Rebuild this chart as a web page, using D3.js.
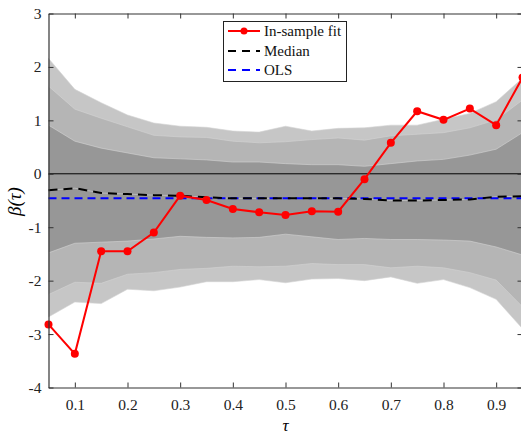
<!DOCTYPE html>
<html><head><meta charset="utf-8">
<script src="https://cdn.jsdelivr.net/npm/d3@7"></script>
<style>body{margin:0;background:#fff}svg{display:block}</style>
</head><body>
<script>
const tau = [0.05,0.1,0.15,0.2,0.25,0.3,0.35,0.4,0.45,0.5,0.55,0.6,0.65,0.7,0.75,0.8,0.85,0.9,0.95];
const fit = [-2.82,-3.37,-1.45,-1.45,-1.10,-0.41,-0.49,-0.66,-0.72,-0.77,-0.70,-0.71,-0.10,0.58,1.17,1.01,1.22,0.91,1.80];
const median = [-0.31,-0.27,-0.36,-0.38,-0.40,-0.41,-0.44,-0.46,-0.46,-0.46,-0.46,-0.46,-0.47,-0.50,-0.50,-0.49,-0.48,-0.43,-0.42];
const ols = [-0.46,-0.46,-0.46,-0.46,-0.46,-0.46,-0.46,-0.46,-0.46,-0.46,-0.46,-0.46,-0.46,-0.46,-0.46,-0.46,-0.46,-0.46,-0.46];
const outerUp = [2.16,1.58,1.33,1.10,0.95,0.89,0.87,0.80,0.78,0.89,0.80,0.85,0.86,0.91,0.91,1.02,1.13,1.35,1.79];
const midUp   = [1.64,1.21,1.04,0.88,0.72,0.69,0.68,0.61,0.58,0.60,0.64,0.67,0.63,0.71,0.74,0.77,0.86,1.01,1.38];
const innerUp = [0.91,0.61,0.48,0.39,0.30,0.28,0.26,0.22,0.22,0.19,0.17,0.17,0.14,0.19,0.24,0.27,0.35,0.46,0.77];
const innerLo = [-1.48,-1.30,-1.28,-1.26,-1.22,-1.17,-1.19,-1.20,-1.19,-1.13,-1.18,-1.23,-1.21,-1.23,-1.23,-1.24,-1.26,-1.37,-1.52];
const midLo   = [-2.26,-2.03,-2.05,-1.88,-1.85,-1.79,-1.77,-1.73,-1.74,-1.73,-1.68,-1.70,-1.70,-1.76,-1.73,-1.76,-1.85,-1.99,-2.49];
const outerLo = [-2.68,-2.40,-2.43,-2.16,-2.19,-2.12,-2.02,-2.02,-1.98,-2.04,-1.97,-1.96,-2.00,-1.93,-2.05,-1.98,-2.13,-2.35,-2.90];
const xTicks = [0.1,0.2,0.3,0.4,0.5,0.6,0.7,0.8,0.9];
const yTicks = [-4,-3,-2,-1,0,1,2,3];
const legendLabels = ["In-sample fit","Median","OLS"];

const W = 521, H = 434;
const svg = d3.select("body").append("svg").attr("width", W).attr("height", H);
const x = d3.scaleLinear().domain([0.05,0.95]).range([48.5,522.5]);
const y = d3.scaleLinear().domain([-4,3]).range([387.5,13.5]);
const font = "'Liberation Serif','Times New Roman',serif";

const g = svg.append("g");
function band(lo, hi, color){
  const area = d3.area().x((d,i)=>x(tau[i])).y0((d,i)=>y(lo[i])).y1((d,i)=>y(hi[i]));
  g.append("path").datum(tau).attr("d", area).attr("fill", color)
    .attr("stroke", "#d4d4d4").attr("stroke-width", 0.6);
}
band(outerLo, outerUp, "#c6c6c6");
band(midLo, midUp, "#b5b5b5");
band(innerLo, innerUp, "#979797");

// zero line
g.append("line").attr("x1", x(0.05)).attr("x2", x(0.95)).attr("y1", y(0)).attr("y2", y(0))
  .attr("stroke", "#000").attr("stroke-width", 1);

const line = arr => d3.line().x((d,i)=>x(tau[i])).y((d,i)=>y(arr[i]))(tau);
g.append("path").attr("d", line(median)).attr("fill","none").attr("stroke","#d0d0d0").attr("stroke-width",0.6);
g.append("path").attr("d", line(ols)).attr("fill","none").attr("stroke","#0000ff").attr("stroke-width",2).attr("stroke-dasharray","8,5");
g.append("path").attr("d", line(median)).attr("fill","none").attr("stroke","#000").attr("stroke-width",2).attr("stroke-dasharray","9,6");
g.append("path").attr("d", line(fit)).attr("fill","none").attr("stroke","#ff0000").attr("stroke-width",2);
g.selectAll("circle.fit").data(fit).enter().append("circle")
  .attr("cx",(d,i)=>x(tau[i])).attr("cy",d=>y(d)).attr("r",4).attr("fill","#ff0000");

// axes
const axB = svg.append("g").attr("transform",`translate(0,${y(-4)})`)
  .call(d3.axisBottom(x).tickValues(xTicks).tickFormat(d3.format(".1f")).tickSize(-5).tickSizeOuter(0).tickPadding(11));
const axT = svg.append("g").attr("transform",`translate(0,${y(3)})`)
  .call(d3.axisTop(x).tickValues(xTicks).tickFormat("").tickSize(-5).tickSizeOuter(0));
const axL = svg.append("g").attr("transform",`translate(${x(0.05)},0)`)
  .call(d3.axisLeft(y).tickValues(yTicks).tickFormat(d=>String(d)).tickSize(-5).tickSizeOuter(0).tickPadding(7));
const axR = svg.append("g").attr("transform",`translate(${x(0.95)},0)`)
  .call(d3.axisRight(y).tickValues(yTicks).tickFormat("").tickSize(-5).tickSizeOuter(0));
[axB,axT,axL,axR].forEach(a=>{
  a.select(".domain").attr("stroke","#333").attr("stroke-width",1.2);
  a.selectAll(".tick line").attr("stroke","#333").attr("stroke-width",1);
  a.selectAll("text").attr("font-family",font).attr("font-size",15.5).attr("fill","#222");
});

svg.append("text").attr("x", x(0.5)).attr("y", 431).attr("text-anchor","middle")
  .attr("font-family",font).attr("font-size",17).attr("font-style","italic").text("τ");
svg.append("text").attr("transform",`translate(21,${y(-0.52)}) rotate(-90)`).attr("text-anchor","middle")
  .attr("font-family",font).attr("font-size",19).attr("font-style","italic").text("β(τ)");

// legend
const lg = svg.append("g");
lg.append("rect").attr("x",223.5).attr("y",21.5).attr("width",123).attr("height",60)
  .attr("fill","#fff").attr("stroke","#222").attr("stroke-width",1);
const ly = [31, 51, 70];
const styles = [{c:"#ff0000",d:null},{c:"#000",d:"8,6"},{c:"#0000ff",d:"8,6"}];
legendLabels.forEach((t,i)=>{
  const l = lg.append("line").attr("x1",228).attr("x2",260).attr("y1",ly[i]).attr("y2",ly[i])
    .attr("stroke",styles[i].c).attr("stroke-width",2);
  if(styles[i].d) l.attr("stroke-dasharray",styles[i].d);
  if(i===0) lg.append("circle").attr("cx",244).attr("cy",ly[i]).attr("r",3.5).attr("fill","#ff0000");
  lg.append("text").attr("x",264).attr("y",ly[i]+5).attr("font-family",font).attr("font-size",15).attr("fill","#111").text(t);
});
</script>
</body></html>
